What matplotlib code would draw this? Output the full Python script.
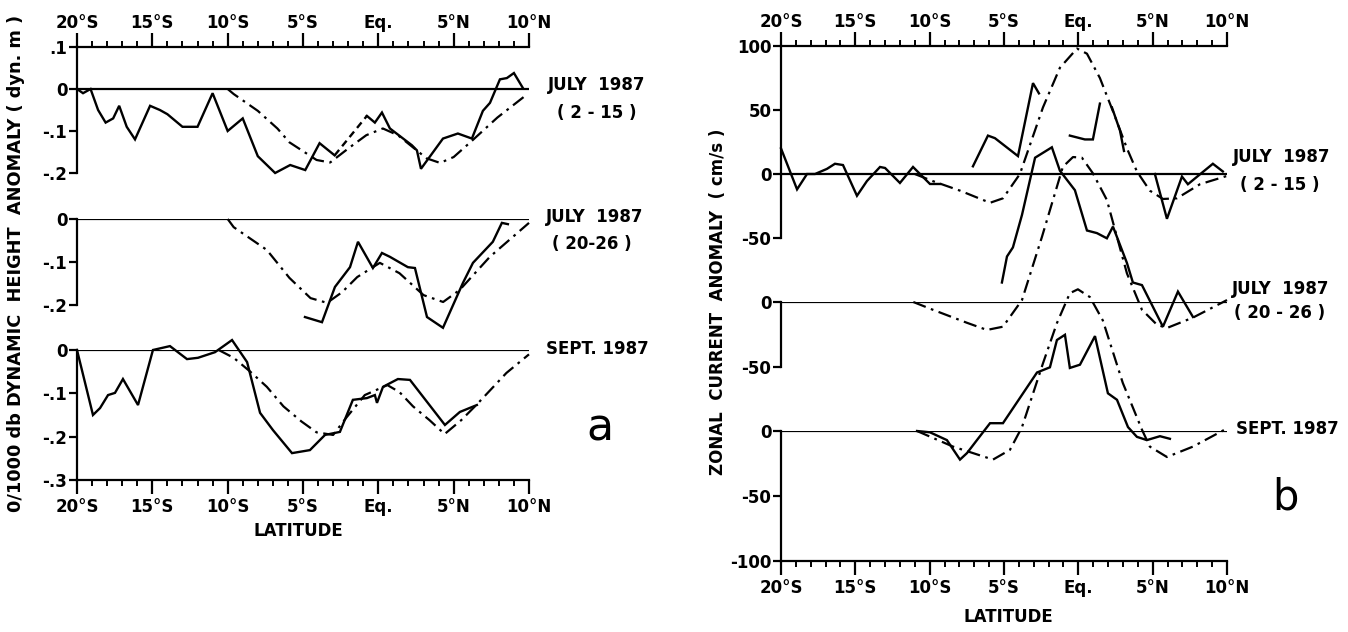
import matplotlib.pyplot as plt
from matplotlib.ticker import FixedLocator

plt.rcParams['font.family'] = 'DejaVu Sans'
plt.rcParams['font.weight'] = 'bold'
plt.rcParams['font.size'] = 12

# ---------------- data: panel a (dynamic height anomaly, dyn. m) ----------------
a1_lat = [-20.0, -19.6, -19.1, -18.6, -18.1, -17.6, -17.2, -16.7, -16.15, -15.15, -14.5, -14.0,
          -13.0, -12.0, -11.0, -10.0, -9.0, -8.0, -6.85, -5.85, -4.85, -3.9, -2.9]
a1_val = [0.0, -0.01, 0.0, -0.05, -0.08, -0.07, -0.04, -0.09, -0.12, -0.04, -0.05, -0.06,
          -0.09, -0.09, -0.01, -0.10, -0.07, -0.16, -0.20, -0.181, -0.193, -0.129, -0.158]
a1_gap_lat = [-2.9, -0.76]
a1_gap_val = [-0.158, -0.064]
a1b_lat = [-0.76, -0.23, 0.24, 0.77, 2.23, 2.56, 2.83, 4.29, 5.28, 6.21, 6.94, 7.41, 8.07, 8.53, 9.0, 9.6]
a1b_val = [-0.064, -0.08, -0.056, -0.094, -0.134, -0.146, -0.19, -0.118, -0.106, -0.118, -0.052,
           -0.033, 0.023, 0.026, 0.038, 0.002]
a1_mod_lat = [-10, -9.6, -8, -6.7, -5.9, -4.1, -3.2, -1.9, -0.8, 0.3, 1.3, 2.3, 3.2, 4.1, 5.0, 6.1, 7.9, 9.9]
a1_mod_val = [0, -0.012, -0.052, -0.094, -0.127, -0.169, -0.175, -0.139, -0.11, -0.094, -0.11, -0.139,
              -0.165, -0.176, -0.162, -0.127, -0.068, -0.012]

a2_lat = [-4.87, -3.74, -2.88, -1.88, -1.35, -0.36, 0.24, 0.77, 1.96, 2.43, 3.23, 4.29, 5.61, 6.28, 7.6, 8.2, 8.6]
a2_val = [-0.228, -0.24, -0.158, -0.112, -0.053, -0.114, -0.079, -0.088, -0.112, -0.114, -0.228,
          -0.253, -0.149, -0.102, -0.053, -0.009, -0.012]
a2_mod_lat = [-10, -9.6, -7.4, -5.9, -4.5, -3.4, -2.4, -1.4, 0.1, 1.4, 3.0, 4.3, 5.4, 7.4, 10]
a2_mod_val = [0, -0.019, -0.072, -0.137, -0.184, -0.195, -0.17, -0.135, -0.102, -0.126, -0.177,
              -0.193, -0.165, -0.088, -0.009]

a3_lat = [-20, -18.94, -18.47, -17.94, -17.48, -16.95, -15.95, -14.96, -13.83, -12.7, -11.97, -10.84,
          -9.71, -8.71, -7.85, -6.99, -5.73, -4.54, -3.54, -2.55, -1.69, -0.76, -0.23, -0.09, 0.31,
          1.3, 2.1, 4.42, 5.41, 6.54]
a3_val = [0, -0.15, -0.134, -0.104, -0.099, -0.067, -0.127, 0, 0.009, -0.021, -0.018, -0.005,
          0.023, -0.028, -0.145, -0.185, -0.238, -0.231, -0.196, -0.189, -0.115, -0.111, -0.104,
          -0.122, -0.085, -0.067, -0.069, -0.173, -0.143, -0.127]
a3_mod_lat = [-10.6, -9.6, -8.5, -7.4, -6.3, -5.1, -4.1, -3.0, -2.1, -0.9, 0.6, 1.4, 2.3, 3.4, 4.4,
              5.5, 6.5, 8.5, 10]
a3_mod_val = [0, -0.018, -0.05, -0.085, -0.13, -0.165, -0.19, -0.196, -0.155, -0.104, -0.081, -0.097,
              -0.13, -0.162, -0.194, -0.162, -0.127, -0.053, -0.01]

# ---------------- data: panel b (zonal current anomaly, cm/s) ----------------
b1_segs_lat = [
    [-20, -18.92, -18.25, -17.71, -16.91, -16.37, -15.83, -14.89, -14.22, -13.34, -13.0, -12.0,
     -11.12, -9.98, -9.31],
    [-7.09, -6.08, -5.61, -4.06, -3.05, -2.65],
    [-0.57, 0.44, 0.98, 1.45],
    [2.26, 2.8, 3.07],
    [5.15, 5.96, 6.97, 7.37, 9.05, 9.72],
]
b1_segs_val = [
    [20, -12, 0, 0, 4, 8, 7, -17, -5.5, 5.5, 4.7, -7, 5.5, -7.8, -7.8],
    [6, 30, 28, 14, 71, 63],
    [30, 27, 27, 55],
    [52, 34, 18],
    [0, -35, -2, -8, 8, 2],
]
b1_mod_lat = [-11, -9.8, -7.96, -5.94, -5.07, -3.93, -2.38, -1.24, -0.09, 0.58, 1.45, 2.33, 3.27,
              3.94, 4.81, 5.69, 6.63, 8.18, 10]
b1_mod_val = [0, -5.5, -13, -22.5, -19, 0, 52, 83, 98, 94, 75, 49, 20, 2, -13, -19.5, -19, -8, -1.5]

b2_lat = [-5.14, -4.8, -4.4, -3.79, -2.91, -1.78, -1.24, -0.23, 0.11, 0.58, 1.25, 1.92, 2.33, 3.27,
          3.67, 4.28, 5.69, 6.7, 7.71]
b2_val = [15, 35, 42, 67, 111, 119, 101, 86, 73, 55, 53, 49, 58, 30, 15, 13, -19, 8, -11.5]
b2_mod_lat = [-11.1, -9.78, -7.49, -6.15, -5.07, -3.79, -2.45, -1.04, -0.36, 0.24, 0.98, 1.92, 2.6,
              3.27, 4.28, 5.29, 5.96, 7.71, 10]
b2_mod_val = [0, -6, -16, -21.5, -19, 1.5, 50, 104, 111.5, 111, 99, 78.5, 50, 22, -6, -17.5, -20, -12, 1.5]

b3_lat = [-10.85, -9.98, -8.84, -7.96, -7.49, -6.82, -5.94, -5.07, -2.78, -1.91, -1.44, -0.9, -0.57,
          0.11, 1.12, 1.99, 2.6, 3.34, 3.94, 4.61, 5.49, 6.16]
b3_val = [0, -1, -7, -22, -17, -7, 6, 6, 45, 49, 70, 74, 48.5, 51, 73, 29, 24, 3, -4.5, -7, -4, -6]
b3_mod_lat = [-10.85, -8.43, -5.74, -4.6, -3.79, -2.38, -1.44, -0.57, -0.03, 0.78, 1.65, 2.99, 4.28,
              4.81, 5.96, 7.71, 10]
b3_mod_val = [0, -12, -22, -14.5, 3, 52, 83, 106, 109, 103, 85, 37, 1, -12, -20, -12, 2]

lat_ticks = [-20, -15, -10, -5, 0, 5, 10]
lat_labels = ['20°S', '15°S', '10°S', '5°S', 'Eq.', '5°N', '10°N']

W, H = 1348, 632
fig = plt.figure(figsize=(W / 100, H / 100), dpi=100)

SOLID = dict(color='black', lw=1.7, clip_on=False, solid_joinstyle='miter')
MODEL = dict(color='black', lw=1.6, clip_on=False, linestyle=(0, (6, 2.5, 1.2, 2.5)))


def sub_axes(x0, x1, ytop, ybot, ylim, yticks, ylabels, pos):
    ax = fig.add_axes([x0 / W, 1 - ybot / H, (x1 - x0) / W, (ybot - ytop) / H])
    ax.patch.set_visible(False)
    ax.set_xlim(-20, 10)
    ax.set_ylim(*ylim)
    ax.spines['right'].set_visible(False)
    ax.spines['top'].set_visible(pos == 'top')
    ax.spines['bottom'].set_visible(pos == 'bottom')
    for s in ax.spines.values():
        s.set_linewidth(1.6)
    ax.yaxis.set_major_locator(FixedLocator(yticks))
    ax.set_yticklabels(ylabels)
    ax.tick_params(axis='y', direction='out', length=6, width=1.6, pad=1, labelsize=12)
    ax.axhline(0, color='black', lw=1.6, zorder=1)
    ax.xaxis.set_major_locator(FixedLocator(lat_ticks))
    ax.xaxis.set_minor_locator(FixedLocator(range(-20, 11)))
    if pos == 'top':
        ax.xaxis.tick_top()
        ax.set_xticklabels(lat_labels)
        ax.tick_params(axis='x', which='major', direction='out', length=10, width=1.6, pad=1, labelsize=12)
        ax.tick_params(axis='x', which='minor', direction='out', length=4, width=1.4)
    elif pos == 'bottom':
        ax.set_xticklabels(lat_labels)
        ax.tick_params(axis='x', which='major', direction='out', length=10, width=1.6, pad=3, labelsize=12)
        ax.tick_params(axis='x', which='minor', direction='out', length=4, width=1.4)
    else:
        ax.tick_params(axis='x', which='both', bottom=False, top=False, labelbottom=False)
    return ax


# ---------------- panel a ----------------
ax = sub_axes(77, 529, 47, 173, (-0.2, 0.1), [0.1, 0, -0.1, -0.2], ['.1', '0', '-.1', '-.2'], 'top')
ax.plot(a1_lat, a1_val, **SOLID)
ax.plot(a1_gap_lat, a1_gap_val, color='black', lw=1.7, linestyle=(0, (3, 2)), clip_on=False)
ax.plot(a1b_lat, a1b_val, **SOLID)
ax.plot(a1_mod_lat, a1_mod_val, **MODEL)

ax = sub_axes(77, 529, 219, 305, (-0.2, 0), [0, -0.1, -0.2], ['0', '-.1', '-.2'], 'mid')
ax.plot(a2_lat, a2_val, **SOLID)
ax.plot(a2_mod_lat, a2_mod_val, **MODEL)

ax = sub_axes(77, 529, 350, 480, (-0.3, 0), [0, -0.1, -0.2, -0.3], ['0', '-.1', '-.2', '-.3'], 'bottom')
ax.plot(a3_lat, a3_val, **SOLID)
ax.plot(a3_mod_lat, a3_mod_val, **MODEL)

# ---------------- panel b ----------------
ax = sub_axes(781, 1227, 46, 238, (-50, 100), [100, 50, 0, -50], ['100', '50', '0', '-50'], 'top')
for la, va in zip(b1_segs_lat, b1_segs_val):
    ax.plot(la, va, **SOLID)
ax.plot(b1_mod_lat, b1_mod_val, **MODEL)

ax = sub_axes(781, 1227, 302, 367, (-50, 0), [0, -50], ['0', '-50'], 'mid')
ax.plot(b2_lat, b2_val, **SOLID)
ax.plot(b2_mod_lat, b2_mod_val, **MODEL)

ax = sub_axes(781, 1227, 431, 561, (-100, 0), [0, -50, -100], ['0', '-50', '-100'], 'bottom')
ax.plot(b3_lat, b3_val, **SOLID)
ax.plot(b3_mod_lat, b3_mod_val, **MODEL)


# ---------------- texts ----------------
def ftext(x, y, s, **kw):
    fig.text(x / W, 1 - y / H, s, ha='center', va='center', **kw)


ftext(298, 531, 'LATITUDE')
ftext(1008, 617, 'LATITUDE')
ftext(16, 263, '0/1000 db DYNAMIC  HEIGHT  ANOMALY ( dyn. m )', rotation=90, fontsize=12.8)
ftext(718, 302, 'ZONAL  CURRENT  ANOMALY  ( cm/s )', rotation=90)

ftext(597, 85, 'JULY  1987')
ftext(597, 113, '( 2 - 15 )')
ftext(595, 217, 'JULY  1987')
ftext(592, 244, '( 20-26 )')
ftext(597, 349, 'SEPT. 1987')
ftext(1282, 157, 'JULY  1987')
ftext(1280, 185, '( 2 - 15 )')
ftext(1281, 289, 'JULY  1987')
ftext(1280, 313, '( 20 - 26 )')
ftext(1287, 429, 'SEPT. 1987')

ftext(600, 428, 'a', fontsize=32, fontweight='normal')
ftext(1285, 498, 'b', fontsize=30, fontweight='normal')

fig.savefig('out.png', dpi=100)
